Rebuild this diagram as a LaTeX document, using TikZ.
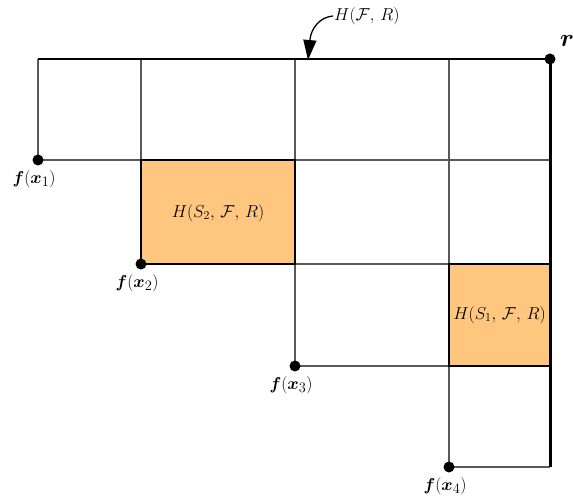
\documentclass[tikz,border=0pt]{standalone}
\usepackage{amsmath,bm}
\usetikzlibrary{arrows.meta}
\begin{document}
\begin{tikzpicture}[x=1pt,y=-1pt]
\definecolor{cellfill}{HTML}{FFC680}
\tikzset{
  grid line/.style={black!65,line width=1.4pt},
  bound line/.style={black,line width=3pt},
  pt dot/.style={circle,fill=black,inner sep=0pt,minimum size=11pt},
  pt label/.style={font=\fontsize{19}{22}\selectfont,anchor=north},
  cell label/.style={font=\fontsize{16.5}{19}\selectfont}
}
\useasboundingbox (0,0) rectangle (573,502);
% points
\coordinate (f1) at (38,160);
\coordinate (f2) at (141,264);
\coordinate (f3) at (295,366);
\coordinate (f4) at (449,467);
\coordinate (r) at (550,59);
% shaded cells
\fill[cellfill] (141,160) rectangle (295,264);
\fill[cellfill] (449,264) rectangle (550,366);
\node[cell label] (hs2) at (218,213) {$H(S_2,\,\mathcal{F},\,R)$};
\node[cell label] (hs1) at (499.5,315) {$H(S_1,\,\mathcal{F},\,R)$};
% grid
\draw[grid line] (f1) -- (550,160);
\draw[grid line] (f2) -- (550,264);
\draw[grid line] (f3) -- (550,366);
\draw[grid line] (f4) -- (550,467);
\draw[grid line] (f1) -- (38,59);
\draw[grid line] (f2) -- (141,59);
\draw[grid line] (f3) -- (295,59);
\draw[grid line] (f4) -- (449,59);
\draw[black,line width=1.6pt] (141,160) rectangle (295,264);
\draw[black,line width=1.6pt] (449,264) rectangle (550,366);
\draw[black,line width=1.8pt] (38,59) -- (r);
\draw[bound line] (r) -- (550,467);
% dots and labels
\foreach \p/\i in {f1/1,f2/2,f3/3,f4/4}{
  \node[pt dot] (d\i) at (\p) {};
  \node[pt label] (l\i) at ([xshift=-4pt,yshift=-7pt]\p) {$\bm{f}(\bm{x}_{\i})$};
}
\node[pt dot] (dr) at (r) {};
\node[font=\fontsize{23}{26}\selectfont] (lr) at (567,41) {$\bm{r}$};
% annotation
\node[cell label,anchor=west,inner sep=1pt] (hfr) at (333,16) {$H(\mathcal{F},\,R)$};
\coordinate (tip) at (308,60);
\draw[black,line width=1.3pt,-{Triangle[length=20pt,width=13pt]}] (hfr.west) .. controls (320,17) and (311,28) .. (tip);
\end{tikzpicture}
\end{document}
